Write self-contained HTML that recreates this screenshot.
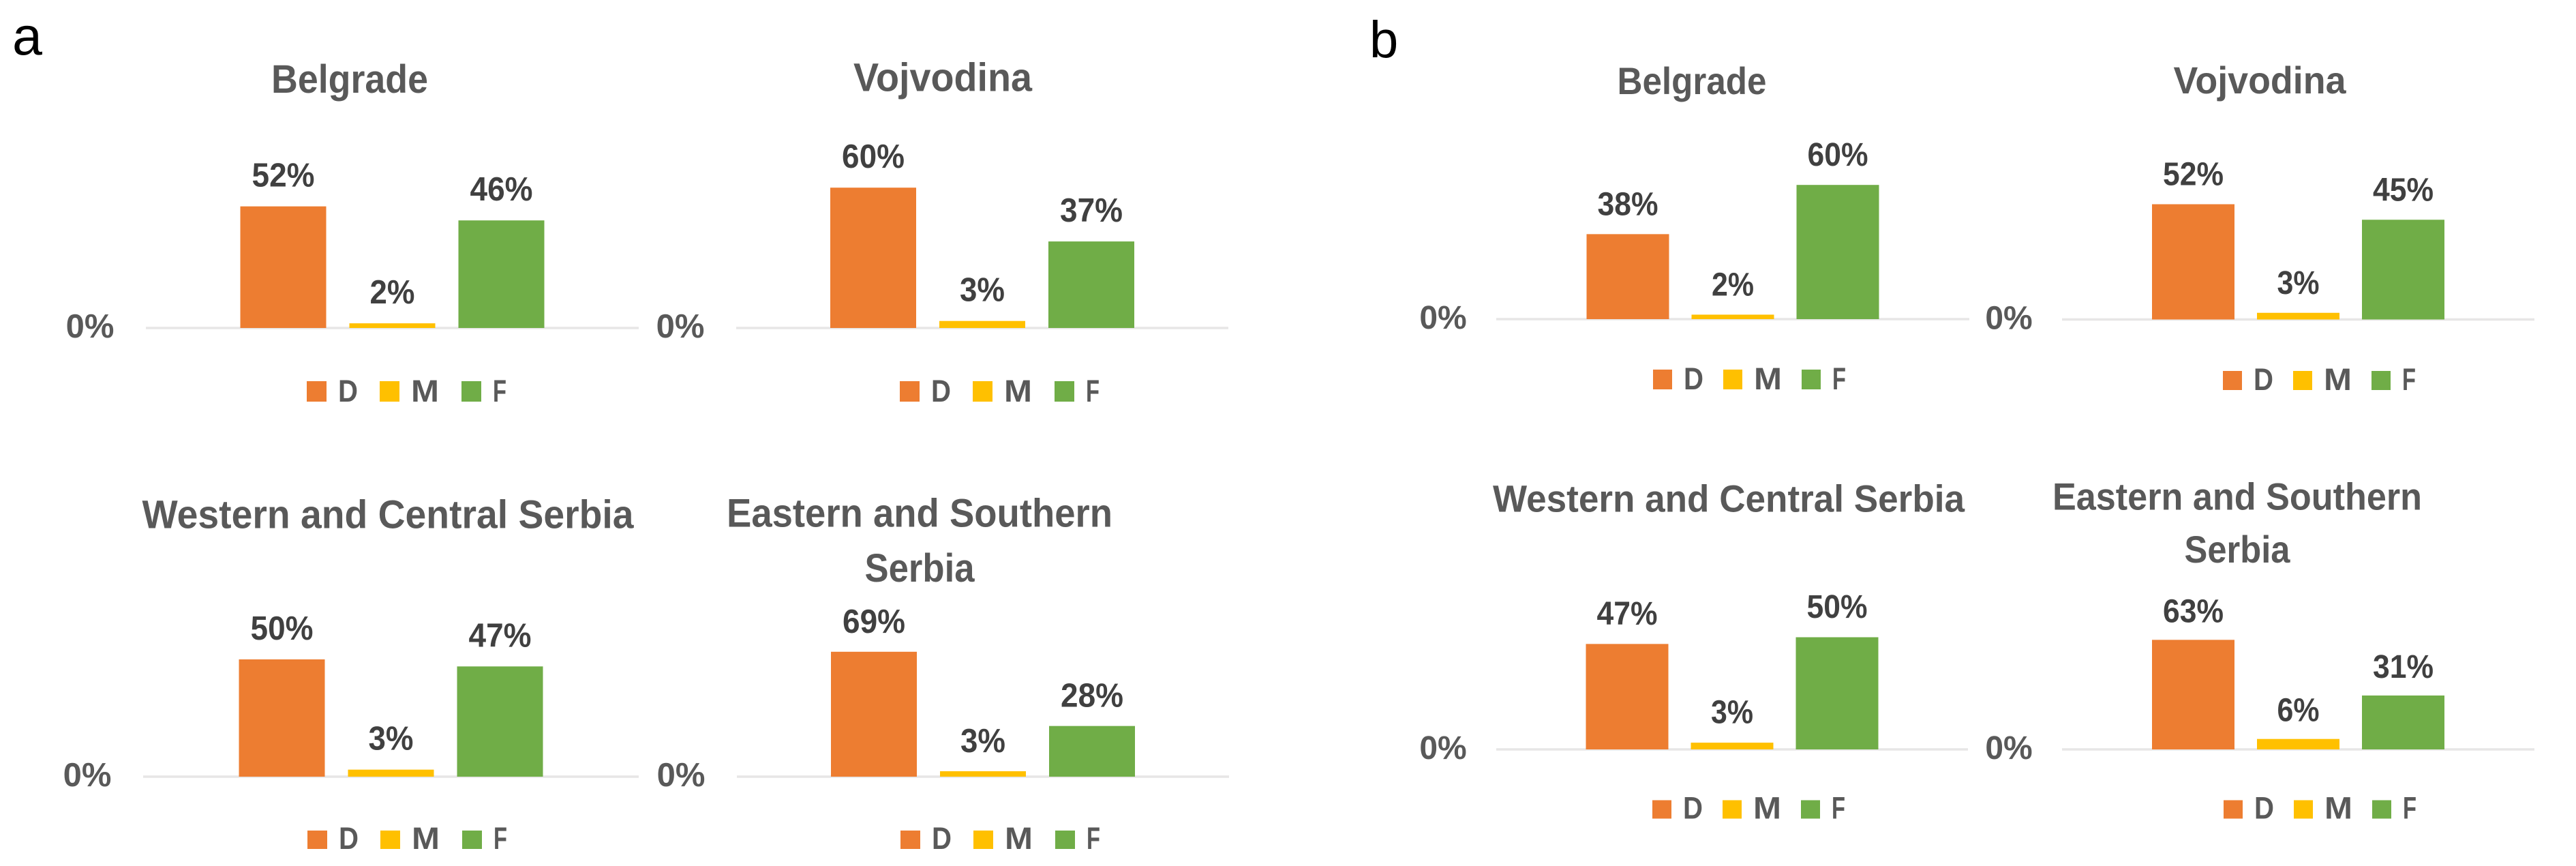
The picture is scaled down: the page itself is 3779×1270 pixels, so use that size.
<!DOCTYPE html>
<html lang="en">
<head>
<meta charset="utf-8">
<title>Regional D / M / F distribution</title>
<style>
  html, body { margin: 0; padding: 0; background: #ffffff; }
  svg { display: block; }
  text { font-family: "Liberation Sans", sans-serif; }
</style>
</head>
<body>
<svg id="figure" xmlns="http://www.w3.org/2000/svg" width="3779" height="1270" viewBox="0 0 3779 1270">
  <rect x="0" y="0" width="3779" height="1270" fill="#ffffff"/>
  <text x="18" y="80" font-size="79" fill="#000000">a</text>
  <text x="2009" y="84" font-size="76" fill="#000000">b</text>
</svg>
<script>
// ---- Chart data ----
const categories = ['D', 'M', 'F'];
const tickLabels = ['0%'];
const tickValues = [0];

const belgradeA = [52, 2, 46];
const vojvodinaA = [60, 3, 37];
const westernCentralA = [50, 3, 47];
const easternSouthernA = [69, 3, 28];

const belgradeB = [38, 2, 60];
const vojvodinaB = [52, 3, 45];
const westernCentralB = [47, 3, 50];
const easternSouthernB = [63, 6, 31];

const titleBelgrade = ['Belgrade'];
const titleVojvodina = ['Vojvodina'];
const titleWestern = ['Western and Central Serbia'];
const titleEastern = ['Eastern and Southern', 'Serbia'];

// ---- Styling ----
const seriesColors = ['#ED7D31', '#FFC000', '#70AD47'];
const legendTextWidths = [29, 41, 20];
const svgNS = 'http://www.w3.org/2000/svg';
const root = document.getElementById('figure');

function mk(parent, tag, attrs, content) {
  const node = document.createElementNS(svgNS, tag);
  for (const key in attrs) node.setAttribute(key, attrs[key]);
  if (content !== undefined) node.textContent = content;
  parent.appendChild(node);
  return node;
}

function drawPanel(name, values, titleLines, layout) {
  const group = mk(root, 'g', {});
  
  

  // Axis functions
  const yScale = (v) => layout.base - v * layout.pxPerPct;
  const mid = (layout.left + layout.right) / 2;
  const xCenter = (i) => mid + (i - 1) * layout.step;

  // Title
  titleLines.forEach((line, i) => {
    const el = mk(group, 'text', {
      x: layout.titleX,
      y: layout.titleY[i],
      'text-anchor': 'middle',
      'font-size': layout.titleSize,
      'font-weight': 'bold',
      fill: '#595959',
      textLength: layout.titleW[i],
      lengthAdjust: 'spacingAndGlyphs'
    }, line);
    
    
  });

  // Axis baseline
  const axis = mk(group, 'line', {
    x1: layout.left,
    x2: layout.right,
    y1: yScale(0),
    y2: yScale(0),
    stroke: '#E7E6E6',
    'stroke-width': 3.5
  });
  
  

  // Y tick labels
  tickValues.forEach((t, i) => {
    const el = mk(group, 'text', {
      x: layout.left + layout.tickDx,
      y: yScale(t) + 14,
      'text-anchor': 'middle',
      'font-size': layout.labelSize,
      'font-weight': 'bold',
      fill: '#595959'
    }, tickLabels[i]);
    
    
  });

  // Bars and printed values
  values.forEach((v, i) => {
    const bar = mk(group, 'rect', {
      x: xCenter(i) - layout.barW / 2,
      y: yScale(v),
      width: layout.barW,
      height: yScale(0) - yScale(v),
      fill: seriesColors[i]
    });
    
    

    const label = mk(group, 'text', {
      x: xCenter(i),
      y: yScale(v) - layout.labelGap,
      'text-anchor': 'middle',
      'font-size': layout.labelSize,
      'font-weight': 'bold',
      fill: '#404040',
      textLength: v < 10 ? layout.labelW1 : layout.labelW2,
      lengthAdjust: 'spacingAndGlyphs'
    }, v + '%');
    
    
  });

  // Legend
  categories.forEach((c, i) => {
    const sx = layout.legendX + layout.legendOffsets[i];
    const swatch = mk(group, 'rect', {
      x: sx,
      y: layout.legendY,
      width: layout.swatchW,
      height: layout.swatchH,
      fill: seriesColors[i]
    });
    
    

    const text = mk(group, 'text', {
      x: sx + layout.legendTextDx,
      y: layout.legendY + layout.swatchH,
      'font-size': 45,
      'font-weight': 'bold',
      fill: '#595959',
      textLength: legendTextWidths[i],
      lengthAdjust: 'spacingAndGlyphs'
    }, c);
    
    
  });
}

const layoutA = { step: 160, barW: 126, tickDx: -82, labelSize: 49, labelW1: 66, labelW2: 92, titleSize: 58, swatchW: 29, legendOffsets: [0, 107, 227], legendTextDx: 46 };
const layoutB = { step: 154, barW: 121, tickDx: -78, labelSize: 48, labelW1: 62, labelW2: 89, titleSize: 56, swatchW: 28, legendOffsets: [0, 103, 218], legendTextDx: 45 };

drawPanel('belgrade-chart-a', belgradeA, titleBelgrade, Object.assign({}, layoutA, {
  left: 214, right: 937, base: 481, pxPerPct: 3.43, labelGap: 29,
  titleX: 513, titleY: [136], titleW: [230],
  legendX: 450, legendY: 559, swatchH: 30
}));
drawPanel('vojvodina-chart-a', vojvodinaA, titleVojvodina, Object.assign({}, layoutA, {
  left: 1080, right: 1802, base: 481, pxPerPct: 3.43, labelGap: 29,
  titleX: 1383, titleY: [133.5], titleW: [262],
  legendX: 1320, legendY: 559, swatchH: 30
}));
drawPanel('western-central-chart-a', westernCentralA, titleWestern, Object.assign({}, layoutA, {
  left: 210, right: 937, base: 1139, pxPerPct: 3.44, labelGap: 29,
  titleX: 569, titleY: [774.6], titleW: [721],
  legendX: 451, legendY: 1218, swatchH: 27
}));
drawPanel('eastern-southern-chart-a', easternSouthernA, titleEastern, Object.assign({}, layoutA, {
  left: 1081, right: 1803, base: 1139, pxPerPct: 2.655, labelGap: 28,
  titleX: 1349, titleY: [772.6, 853], titleW: [566, 161],
  legendX: 1321, legendY: 1218, swatchH: 27
}));
drawPanel('belgrade-chart-b', belgradeB, titleBelgrade, Object.assign({}, layoutB, {
  left: 2195, right: 2889, base: 468, pxPerPct: 3.28, labelGap: 28,
  titleX: 2482, titleY: [138], titleW: [219],
  legendX: 2425, legendY: 542, swatchH: 29
}));
drawPanel('vojvodina-chart-b', vojvodinaB, titleVojvodina, Object.assign({}, layoutB, {
  left: 3025, right: 3718, base: 468.5, pxPerPct: 3.25, labelGap: 28,
  titleX: 3315, titleY: [137], titleW: [253],
  legendX: 3261, legendY: 544, swatchH: 28
}));
drawPanel('western-central-chart-b', westernCentralB, titleWestern, Object.assign({}, layoutB, {
  left: 2195, right: 2887, base: 1099, pxPerPct: 3.29, labelGap: 28.5,
  titleX: 2536, titleY: [750.5], titleW: [692],
  legendX: 2424, legendY: 1173.5, swatchH: 27
}));
drawPanel('eastern-southern-chart-b', easternSouthernB, titleEastern, Object.assign({}, layoutB, {
  left: 3025, right: 3718, base: 1099, pxPerPct: 2.55, labelGap: 26,
  titleX: 3282, titleY: [747.7, 824.8], titleW: [542, 155],
  legendX: 3262, legendY: 1173.5, swatchH: 27
}));
</script>
</body>
</html>
